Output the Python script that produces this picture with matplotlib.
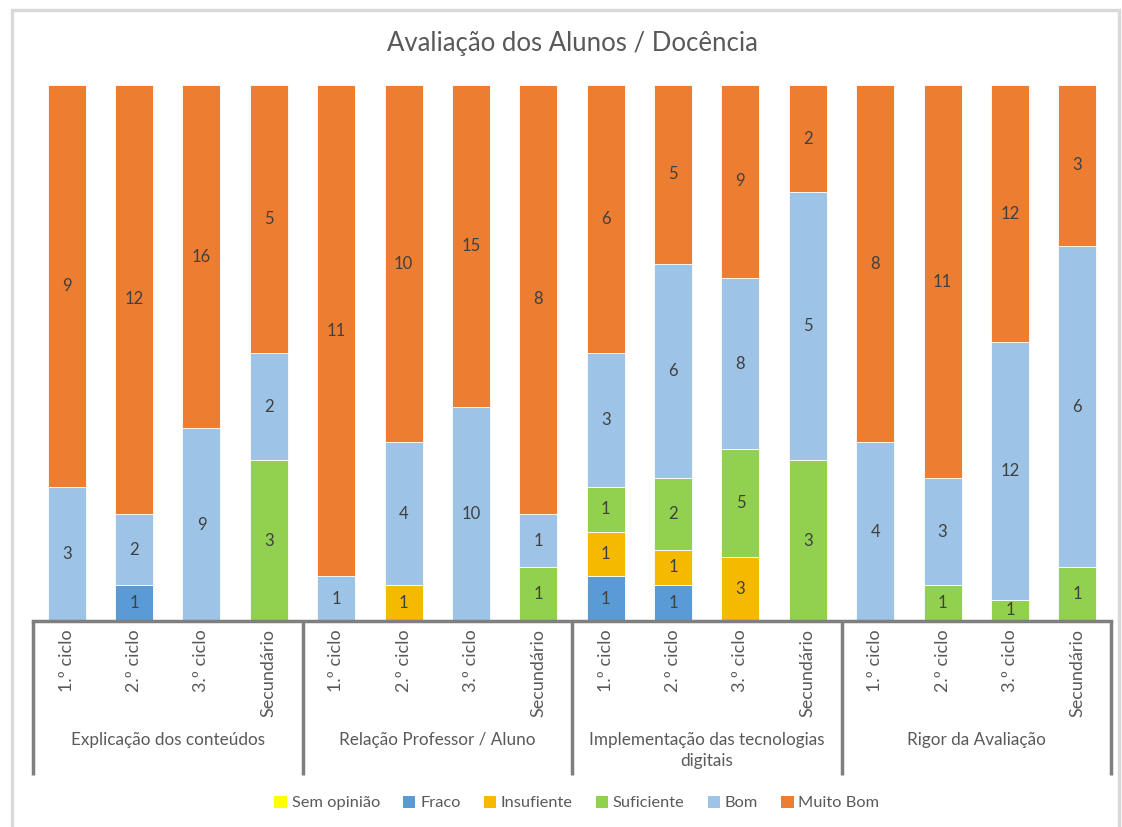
import numpy as np
import matplotlib
matplotlib.use("Agg")
import matplotlib.pyplot as plt
from matplotlib.patches import Patch, Rectangle

plt.rcParams["font.family"] = ["Lato", "DejaVu Sans"]

groups = ["Explicação dos conteúdos", "Relação Professor / Aluno",
          "Implementação das tecnologias\ndigitais", "Rigor da Avaliação"]
levels = ["1.º ciclo", "2.º ciclo", "3.º ciclo", "Secundário"]

series_names = ["Sem opinião", "Fraco", "Insufiente", "Suficiente", "Bom", "Muito Bom"]
sem_opiniao = [0, 0, 0, 0, 0, 0, 0, 0, 0, 0, 0, 0, 0, 0, 0, 0]
fraco = [0, 1, 0, 0, 0, 0, 0, 0, 1, 1, 0, 0, 0, 0, 0, 0]
insuficiente = [0, 0, 0, 0, 0, 1, 0, 0, 1, 1, 3, 0, 0, 0, 0, 0]
suficiente = [0, 0, 0, 3, 0, 0, 0, 1, 1, 2, 5, 3, 0, 1, 1, 1]
bom = [3, 2, 9, 2, 1, 4, 10, 1, 3, 6, 8, 5, 4, 3, 12, 6]
muito_bom = [9, 12, 16, 5, 11, 10, 15, 8, 6, 5, 9, 2, 8, 11, 12, 3]
colors = ["#FFFF00", "#5B9BD5", "#F5B900", "#92D050", "#9DC3E6", "#ED7D31"]

data = np.array([sem_opiniao, fraco, insuficiente, suficiente, bom, muito_bom], dtype=float)
pct = data / data.sum(axis=0) * 100
x = np.arange(data.shape[1])

W, H = 1122, 827
fig = plt.figure(figsize=(W / 100, H / 100), dpi=100)

# light outer frame (open at the bottom, like the cropped screenshot)
fig.patches.append(Rectangle((12 / W, -0.05), (1119 - 12) / W, 1.05 - 10 / H, transform=fig.transFigure,
                             fill=False, edgecolor="#d9d9d9", linewidth=2.5))

ax = fig.add_axes([33 / W, (H - 621) / H, (1111 - 33) / W, 536 / H])
bottom = np.zeros(len(x))
for i in range(len(series_names)):
    ax.bar(x, pct[i], 0.565, bottom=bottom, color=colors[i], edgecolor="white", linewidth=0.6)
    for j in x:
        v = data[i, j]
        if v > 0:
            ax.text(j, bottom[j] + pct[i, j] / 2, f"{int(v)}", ha="center", va="center",
                    fontsize=12, color="#404040")
    bottom += pct[i]

ax.set_xlim(-0.5, len(x) - 0.5)
ax.set_ylim(0, 100)
ax.set_yticks([])
for s in ["top", "right", "left"]:
    ax.spines[s].set_visible(False)
ax.spines["bottom"].set_color("#7f7f7f")
ax.spines["bottom"].set_linewidth(2.5)
ax.set_xticks(x)
ax.set_xticklabels(levels * len(groups), rotation=90, fontsize=13, color="#595959")
ax.tick_params(axis="x", length=0, pad=6)

# group separators and labels
for k in range(len(groups) + 1):
    xs = k * 4 - 0.5
    ax.plot([xs, xs], [0, -0.287], transform=ax.get_xaxis_transform(), color="#7f7f7f",
            linewidth=2.5, clip_on=False, solid_capstyle="butt")
for k, g in enumerate(groups):
    ax.text(k * 4 + 1.5, -0.208, g, transform=ax.get_xaxis_transform(), ha="center", va="top",
            fontsize=12.3, color="#595959", linespacing=1.35)

fig.text(572 / W, 1 - 43 / H, "Avaliação dos Alunos / Docência", ha="center", va="center",
         fontsize=18.5, color="#595959")

handles = [Patch(facecolor=c, edgecolor="none") for c in colors]
fig.legend(handles, series_names, loc="center", bbox_to_anchor=(577 / W, 1 - 803 / H), ncol=6,
           frameon=False, fontsize=11.8, handlelength=0.75, handleheight=0.75,
           handletextpad=0.3, columnspacing=1.4, labelcolor="#595959")

fig.savefig("out.png", dpi=100)
